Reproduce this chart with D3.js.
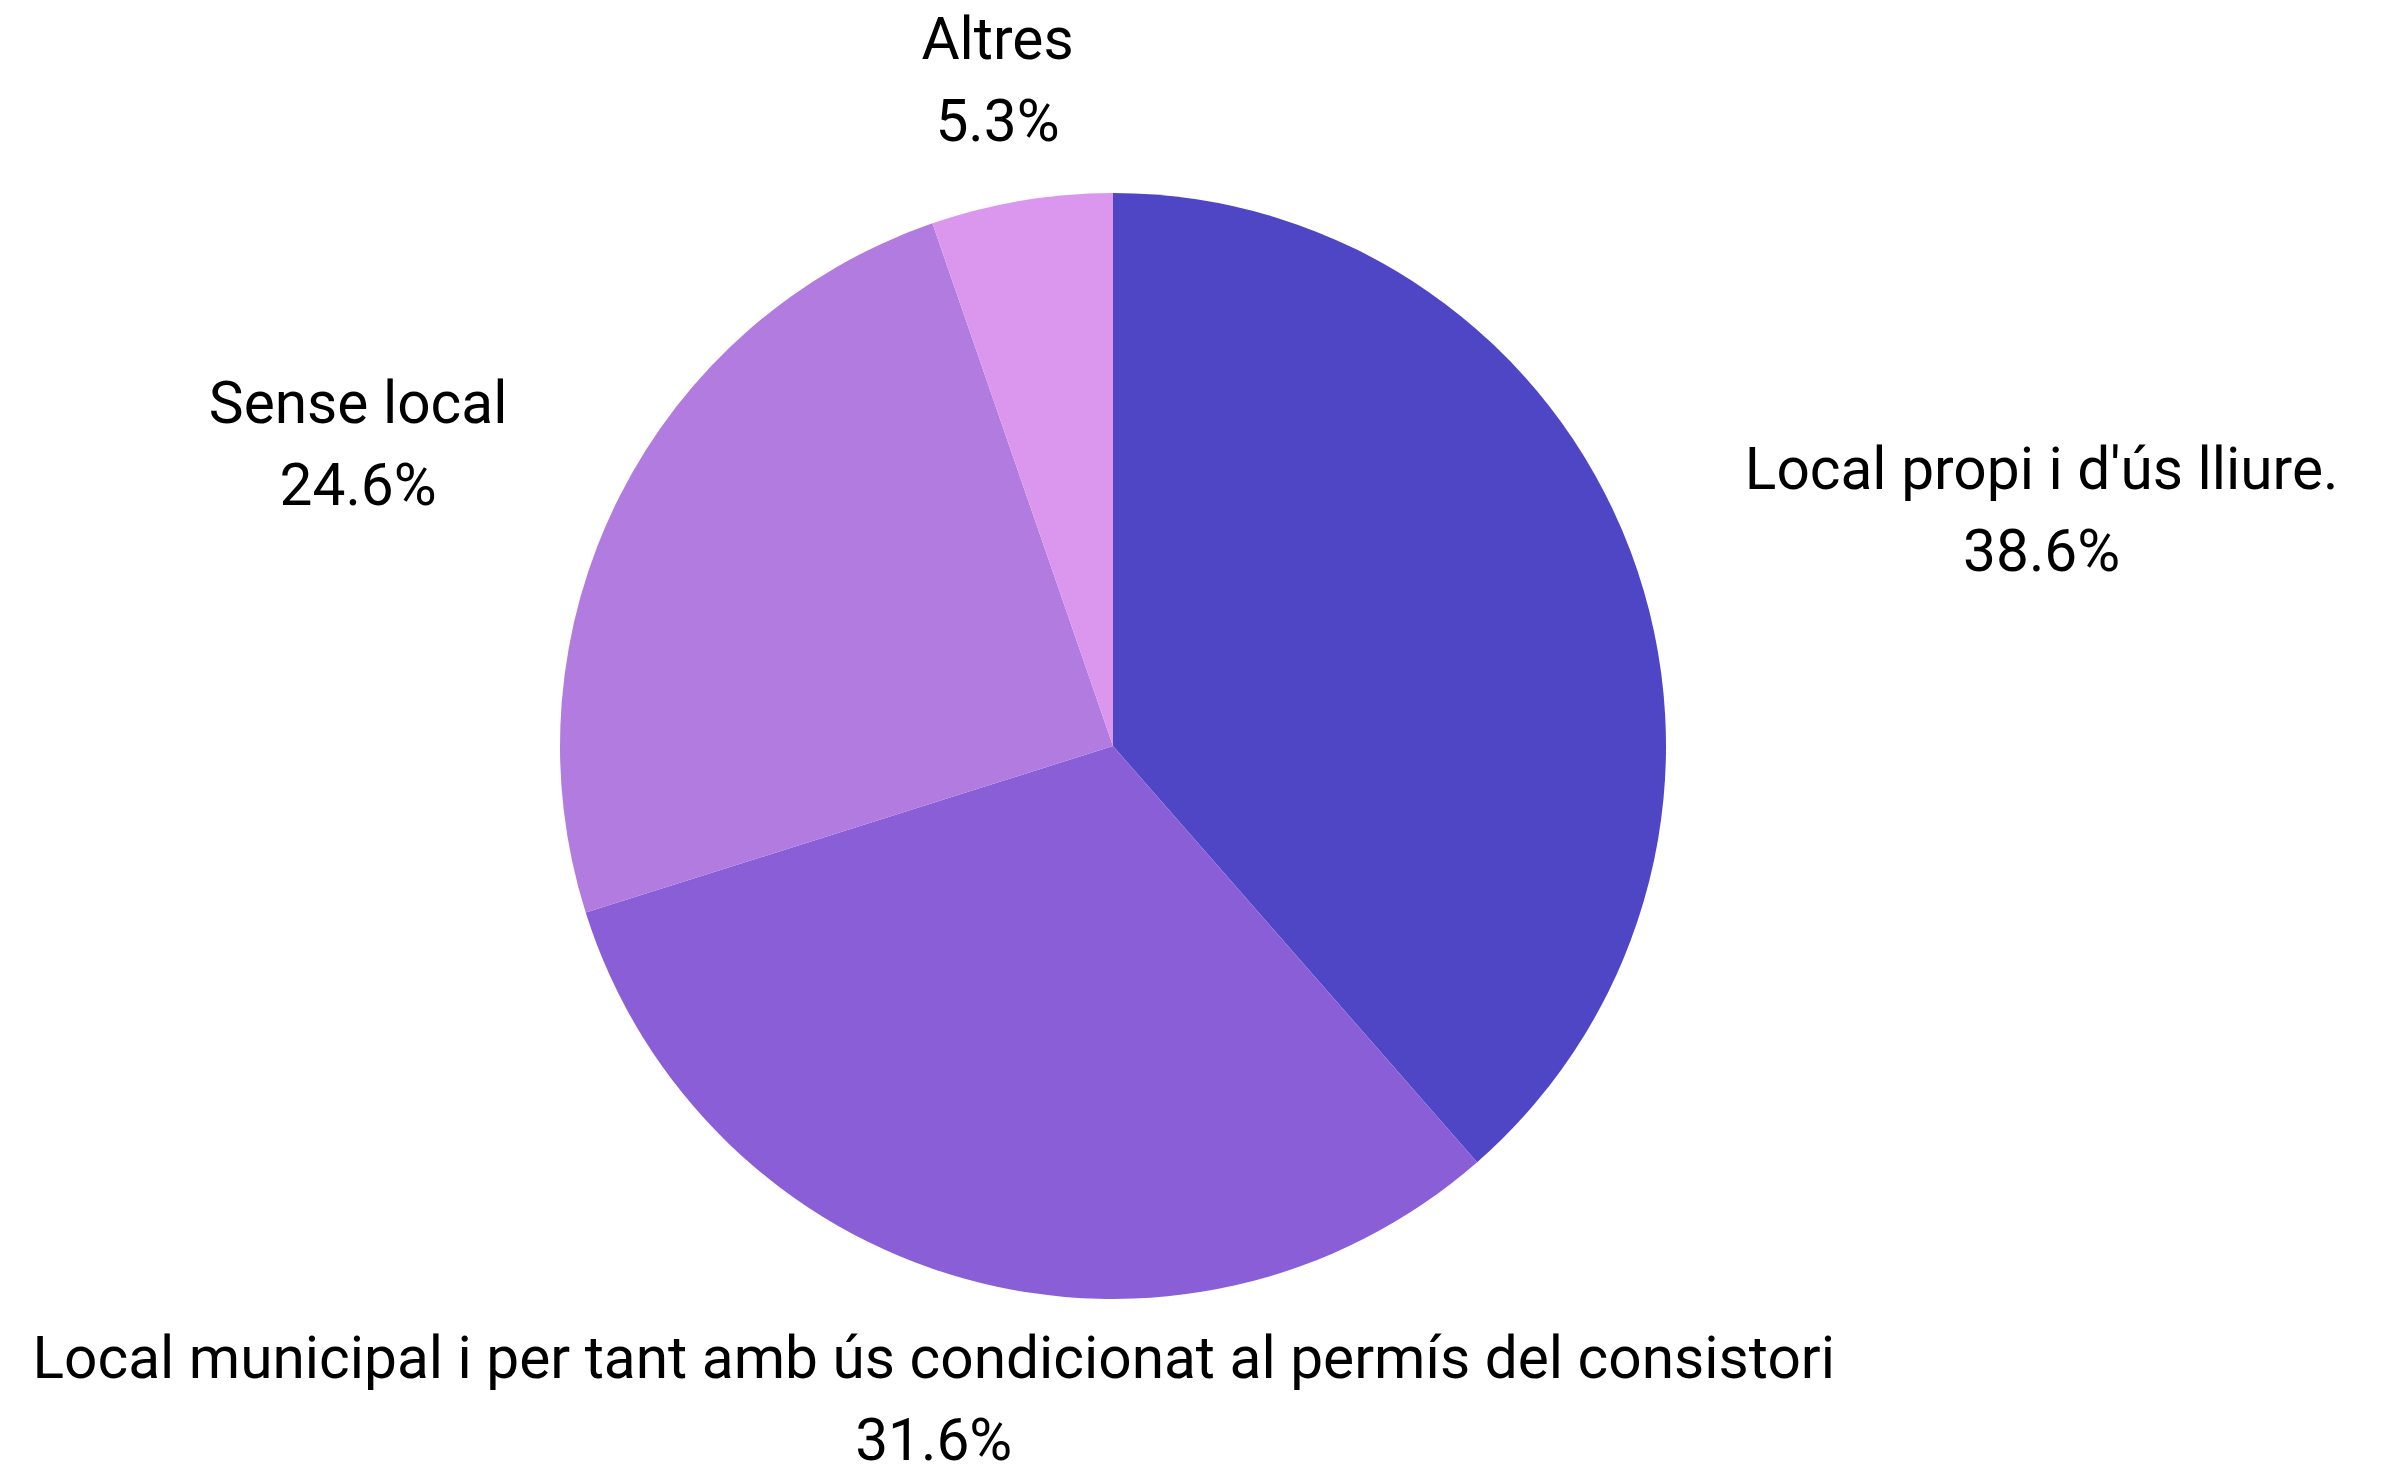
<!DOCTYPE html>
<html>
<head>
<meta charset="utf-8">
<script src="https://cdn.jsdelivr.net/npm/d3@7"></script>
<style>
  body { margin: 0; background: #fff; }
  text { font-family: Roboto, sans-serif; fill: #000; }
</style>
</head>
<body>
<svg id="chart"></svg>
<script>
const categories = ['Local propi i d\'ús lliure.',
                    'Local municipal i per tant amb ús condicionat al permís del consistori',
                    'Sense local',
                    'Altres'];
const shares = [38.6, 31.6, 24.6, 5.3];
const colors = ['#4f46c6', '#8a5ed6', '#b27be0', '#db97ee'];

const data = categories.map((c, i) => ({label: c, share: shares[i], color: colors[i]}));

// dimensions
const width = 2386;
const height = 1465;
const center = {x: 1113, y: 746};
const radius = 553;
const fontSize = 58.6;
const lineGap = 82;

const $svg = d3.select('#chart')
  .attr('width', width)
  .attr('height', height);

const $vis = $svg.append('g')
  .attr('transform', 'translate(' + center.x + ',' + center.y + ')');

const pie = d3.pie()
  .sort(null)
  .value(d => d.share);

const arc = d3.arc()
  .innerRadius(0)
  .outerRadius(radius);

// labels sit a bit outside the rim
const labelArc = d3.arc()
  .innerRadius(radius + 60)
  .outerRadius(radius + 60);

const arcs = pie(data);

$vis.selectAll('.slice')
  .data(arcs)
  .enter()
  .append('path')
  .attr('class', 'slice')
  .attr('d', arc)
  .attr('fill', d => d.data.color);

const $labels = $vis.selectAll('.label')
  .data(arcs)
  .enter()
  .append('text')
  .attr('class', 'label')
  .attr('text-anchor', 'middle')
  .style('font-size', fontSize + 'px');

$labels.each(function(d) {
  const mid = (d.startAngle + d.endAngle) / 2;
  const s = Math.sin(mid);
  const c = Math.cos(mid);
  const p = labelArc.centroid(d);
  const $t = d3.select(this);
  const $l1 = $t.append('tspan').text(d.data.label);
  const $l2 = $t.append('tspan').text(d.data.share.toFixed(1) + '%');
  const w = Math.max($l1.node().getComputedTextLength(), $l2.node().getComputedTextLength());
  let x, firstBaseline;
  if (Math.abs(s) > 0.7) {
    // side labels: block pushed out sideways, vertically centred
    x = p[0] + (s > 0 ? 1 : -1) * (58 + w / 2);
    firstBaseline = p[1] - 22 - lineGap / 2 + fontSize * 0.36 + (s > 0 ? 0 : -6);
  } else {
    x = p[0] - 14;
    firstBaseline = c > 0 ? p[1] - lineGap : p[1] + fontSize * 0.72;
  }
  $l1.attr('x', x).attr('y', firstBaseline);
  $l2.attr('x', x).attr('y', firstBaseline + lineGap);
});
</script>
</body>
</html>
